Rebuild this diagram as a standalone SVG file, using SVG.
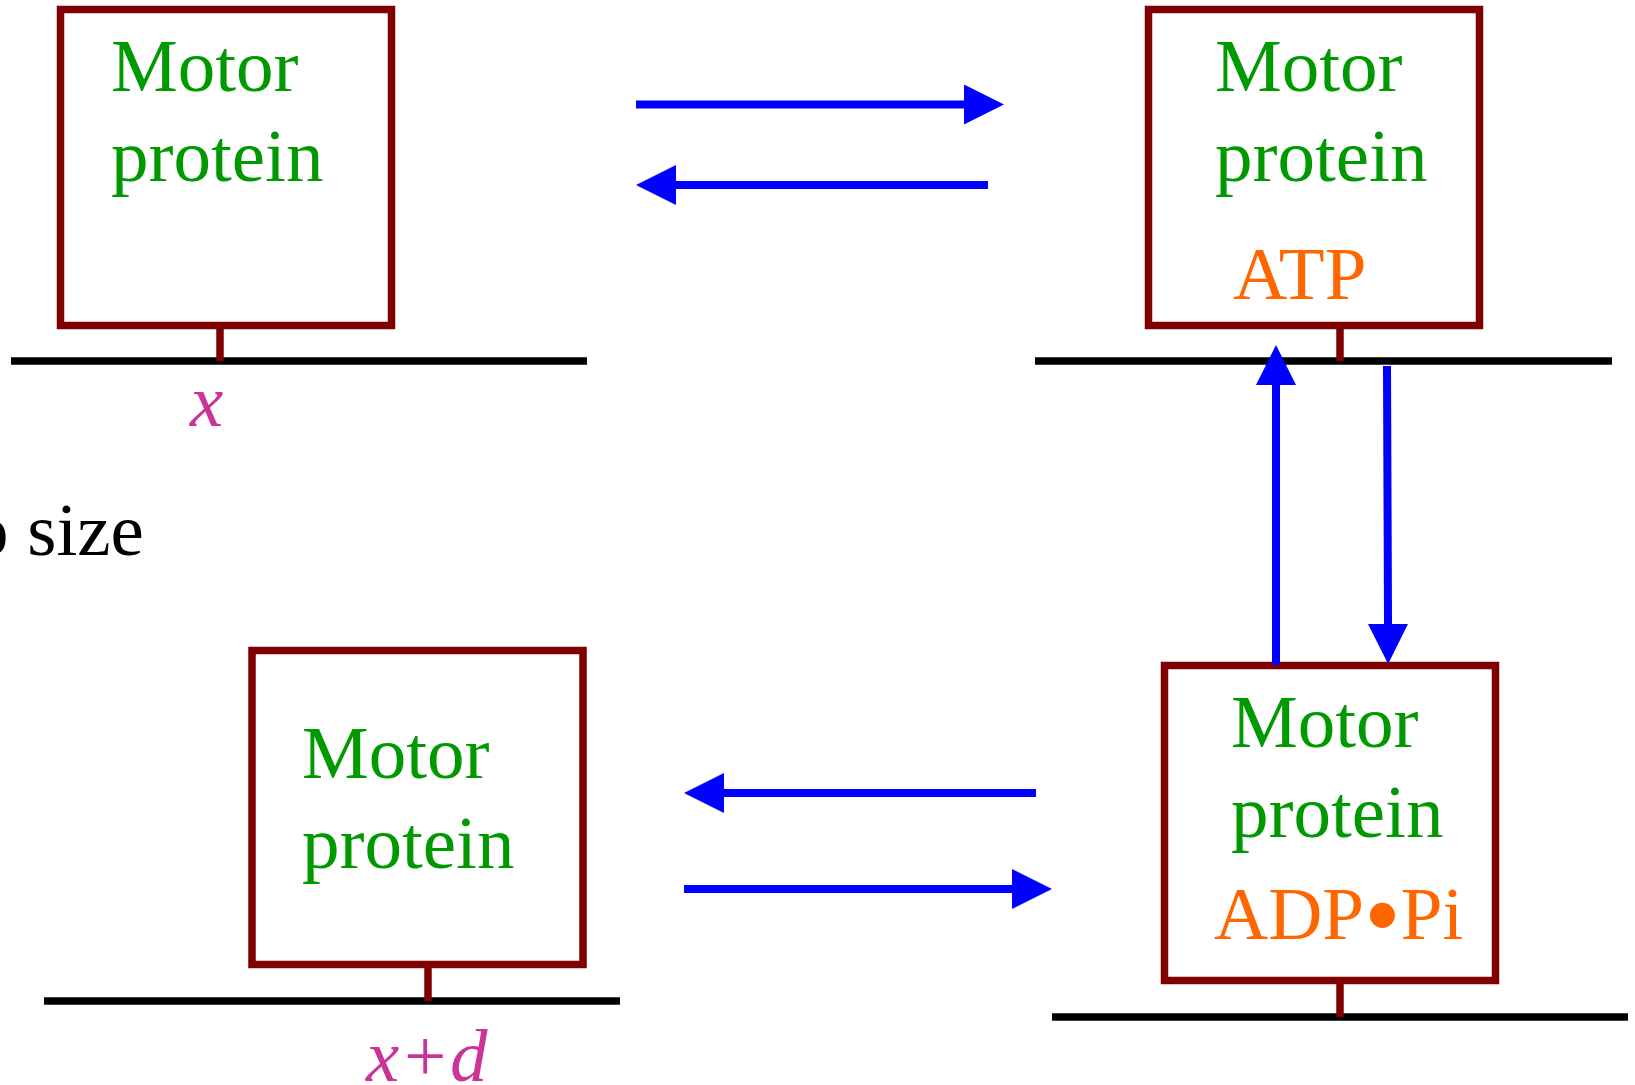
<svg xmlns="http://www.w3.org/2000/svg" width="1635" height="1085" viewBox="0 0 1635 1085">
<style>
.box{fill:#ffffff;stroke:#800000;stroke-width:7.5}
.stem{stroke:#800000;stroke-width:7.5}
.ground{stroke:#000000;stroke-width:7.5}
.lbl{font-family:"Liberation Serif","Times New Roman",serif;font-size:75px}
.green{fill:#009900}
.orange{fill:#FF6600}
.pos{fill:#CC3399;font-style:italic}
.arrow{stroke:#0000FF;stroke-width:8;fill:none;marker-end:url(#head)}
</style>
<defs>
<marker id="head" viewBox="0 0 10 10" refX="0" refY="5" markerWidth="5" markerHeight="5" orient="auto" markerUnits="strokeWidth">
<path d="M0,0 L10,5 L0,10 Z" fill="#0000FF"/>
</marker>
</defs>
<rect width="1635" height="1085" fill="#ffffff"/>
<text class="lbl" x="-29" y="555" font-size="73" fill="#000000">o size</text>
<g id="state-x">
<line class="ground" x1="11" y1="361" x2="587" y2="361"/>
<line class="stem" x1="220" y1="329" x2="220" y2="361"/>
<rect class="box" x="60.5" y="9.5" width="331" height="316"/>
<text class="lbl green" x="111" y="91">Motor</text>
<text class="lbl green" x="111" y="181">protein</text>
<text class="lbl pos" x="190" y="426">x</text>
</g>
<g id="state-atp">
<line class="ground" x1="1035" y1="361" x2="1612" y2="361"/>
<line class="stem" x1="1340" y1="329" x2="1340" y2="361"/>
<rect class="box" x="1148.5" y="9.5" width="331" height="316"/>
<text class="lbl green" x="1215" y="91">Motor</text>
<text class="lbl green" x="1215" y="181">protein</text>
<text class="lbl orange" x="1233" y="299">ATP</text>
</g>
<g id="state-adppi">
<line class="ground" x1="1052" y1="1017" x2="1628" y2="1017"/>
<line class="stem" x1="1340" y1="984" x2="1340" y2="1017"/>
<rect class="box" x="1164.5" y="665.5" width="331" height="315"/>
<text class="lbl green" x="1231" y="746.5">Motor</text>
<text class="lbl green" x="1231" y="836.5">protein</text>
<text class="lbl orange" x="1214" y="939">ADP<tspan font-size="105" dy="11">•</tspan><tspan dy="-11">Pi</tspan></text>
</g>
<g id="state-xd">
<line class="ground" x1="44" y1="1001" x2="620" y2="1001"/>
<line class="stem" x1="428" y1="967" x2="428" y2="1001"/>
<rect class="box" x="252" y="650.5" width="331" height="314"/>
<text class="lbl green" x="302" y="778">Motor</text>
<text class="lbl green" x="302" y="867.5">protein</text>
<text class="lbl pos" x="366" y="1081">x+d</text>
</g>
<g id="connectors">
<line class="arrow" x1="636" y1="104.5" x2="964" y2="104.5"/>
<line class="arrow" x1="988" y1="185" x2="676" y2="185"/>
<line class="arrow" x1="1036" y1="793" x2="724" y2="793"/>
<line class="arrow" x1="684" y1="889" x2="1012" y2="889"/>
<line class="arrow" x1="1276" y1="665" x2="1276" y2="385"/>
<line class="arrow" x1="1387" y1="366" x2="1388" y2="624"/>
</g>
</svg>
